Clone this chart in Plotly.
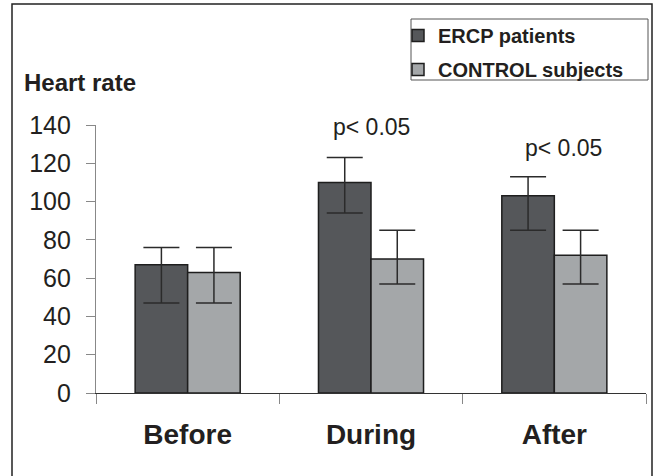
import plotly.graph_objects as go

categories = ["Before", "During", "After"]
ercp_mean = [67, 110, 103]
ercp_err_plus = [9, 13, 10]
ercp_err_minus = [20, 16, 18]
control_mean = [63, 70, 72]
control_err_plus = [13, 15, 13]
control_err_minus = [16, 13, 15]
y_ticks = [0, 20, 40, 60, 80, 100, 120, 140]
sig_labels = ["", "p< 0.05", "p< 0.05"]
sig_label_y = [None, 139, 128]

FONT = "Liberation Sans, Arial, sans-serif"
TXT = "#231f20"
L, R, T, B = 96, 646, 125, 393
PW, PH = R - L, B - T


def px(x):
    return (x - L) / PW


def py(y):
    return (B - y) / PH


fig = go.Figure()
fig.add_trace(go.Bar(
    name="ERCP patients", x=categories, y=ercp_mean,
    marker=dict(color="#55575a", line=dict(color="#1e1e1e", width=1.5)),
    error_y=dict(type="data", array=ercp_err_plus, arrayminus=ercp_err_minus,
                 color="#2b2b2b", thickness=1.5, width=18),
    legendgroup="a",
))
fig.add_trace(go.Bar(
    name="CONTROL subjects", x=categories, y=control_mean,
    marker=dict(color="#a4a7a9", line=dict(color="#1e1e1e", width=1.5)),
    error_y=dict(type="data", array=control_err_plus, arrayminus=control_err_minus,
                 color="#2b2b2b", thickness=1.5, width=18),
    legendgroup="b",
))

annotations = [
    dict(text="Heart rate", xref="paper", yref="paper", x=px(22), y=py(82),
         xanchor="left", yanchor="middle", showarrow=False,
         font=dict(family=FONT, size=24, color=TXT, weight="bold")),
]
for c, lab, yy in zip(categories, sig_labels, sig_label_y):
    if lab:
        annotations.append(dict(text=lab, x=c, y=yy, xref="x", yref="y", showarrow=False,
                                xshift=9 if c == "After" else 0,
                                font=dict(family=FONT, size=23, color=TXT)))

fig.update_layout(
    width=653, height=476,
    margin=dict(l=L, r=653 - R, t=T, b=476 - B, autoexpand=False),
    paper_bgcolor="white", plot_bgcolor="white",
    barmode="group", bargap=0.427, bargroupgap=0,
    font=dict(family=FONT, color=TXT),
    legend=dict(x=px(398), y=py(16), xanchor="left", yanchor="top",
                borderwidth=0, bgcolor="rgba(0,0,0,0)",
                font=dict(family=FONT, size=20, color=TXT, weight="bold"),
                traceorder="grouped", tracegroupgap=5, itemwidth=30),
    annotations=annotations,
    shapes=[
        dict(type="rect", xref="paper", yref="paper",
             x0=px(12), x1=px(652), y0=py(478), y1=py(4),
             line=dict(color="#222222", width=1.5), layer="below"),
        dict(type="rect", xref="paper", yref="paper",
             x0=px(411), x1=px(648), y0=py(80), y1=py(19),
             line=dict(color="#555555", width=1), layer="below"),
    ],
    xaxis=dict(showline=True, linecolor="#333333", linewidth=1.2, automargin=False,
               ticks="outside", tickson="boundaries", ticklen=10, tickcolor="#888888",
               tickfont=dict(family=FONT, size=28, color=TXT, weight="bold"),
               ticklabelstandoff=16, showgrid=False, zeroline=False),
    yaxis=dict(range=[0, 140], tickvals=y_ticks, showline=True, linecolor="#888888",
               linewidth=1.2, ticks="outside", ticklen=9, tickcolor="#888888", automargin=False,
               tickfont=dict(family=FONT, size=25, color=TXT),
               ticklabelstandoff=10, showgrid=False, zeroline=False),
)

fig.write_html("out.html", config={"displayModeBar": False},
               post_script="document.body.style.margin='0';document.body.style.overflow='hidden';")
